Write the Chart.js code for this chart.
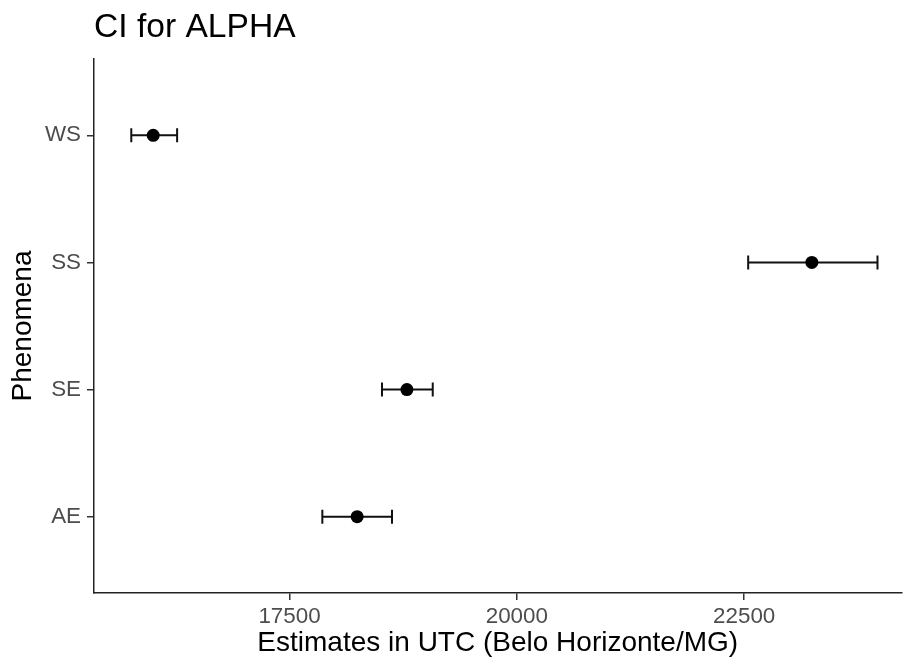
<!DOCTYPE html>
<html>
<head>
<meta charset="utf-8">
<script src="https://cdn.jsdelivr.net/npm/chart.js@4/dist/chart.umd.min.js"></script>
<style>
  html, body { margin: 0; padding: 0; background: #fff; }
  #wrap { width: 908px; height: 664px; }
</style>
</head>
<body>
<div id="wrap"><canvas id="ciChart" width="908" height="664"></canvas></div>
<script>
/* ================= DATA ================= */
const categories = ["AE", "SE", "SS", "WS"];
const estimates  = [18244, 18791, 23244, 16001];
const lowerCI    = [17861, 18517, 22544, 15760];
const upperCI    = [18627, 19075, 23966, 16264];
const xTicks     = [17500, 20000, 22500];

const FONT = "'Liberation Sans', Arial, Helvetica, sans-serif";

/* ---------- error bars drawn through the x/y scales ---------- */
const errorBars = {
  id: "errorBars",
  beforeDatasetsDraw(chart) {
    const { ctx, scales: { x, y } } = chart;
    const cap = 7;
    ctx.save();
    ctx.strokeStyle = "#111";
    ctx.lineWidth = 2;
    categories.forEach((c, i) => {
      const py = y.getPixelForValue(i + 1);
      const x0 = x.getPixelForValue(lowerCI[i]);
      const x1 = x.getPixelForValue(upperCI[i]);
      ctx.beginPath();
      ctx.moveTo(x0, py); ctx.lineTo(x1, py);
      ctx.moveTo(x0, py - cap); ctx.lineTo(x0, py + cap);
      ctx.moveTo(x1, py - cap); ctx.lineTo(x1, py + cap);
      ctx.stroke();
    });
    ctx.restore();
  }
};

new Chart(document.getElementById("ciChart"), {
  type: "scatter",
  data: {
    datasets: [{
      label: "Estimate",
      data: estimates.map((v, i) => ({ x: v, y: i + 1 })),
      backgroundColor: "#000",
      borderColor: "#000",
      pointRadius: 6.5,
      pointBorderWidth: 0,
      pointHoverRadius: 6.5
    }]
  },
  options: {
    responsive: false,
    animation: false,
    layout: { padding: { left: 0, right: 3, top: 0, bottom: 0 } },
    plugins: {
      legend: { display: false },
      tooltip: { enabled: false },
      title: {
        display: true,
        text: "CI for ALPHA",
        align: "start",
        fullSize: false,
        color: "#000",
        font: { family: FONT, size: 33.6, weight: "normal" },
        padding: { top: 8, bottom: 10.7 }
      }
    },
    scales: {
      x: {
        type: "linear",
        min: 15350,
        max: 24230,
        afterBuildTicks: (s) => { s.ticks = xTicks.map(v => ({ value: v })); },
        afterFit: (s) => { s.height = 71; },
        grid: { display: true, drawOnChartArea: false, drawTicks: true, tickLength: 7, color: "#333", lineWidth: 1.5 },
        border: { display: true, color: "#222", width: 1.5 },
        ticks: {
          color: "#4d4d4d",
          padding: 3,
          maxRotation: 0,
          font: { family: FONT, size: 22.4 },
          callback: (v) => String(v)
        },
        title: {
          display: true,
          text: "Estimates in UTC (Belo Horizonte/MG)",
          color: "#000",
          font: { family: FONT, size: 28 },
          padding: { top: 0, bottom: 4 }
        }
      },
      y: {
        type: "linear",
        min: 0.4,
        max: 4.6,
        afterBuildTicks: (s) => { s.ticks = categories.map((c, i) => ({ value: i + 1 })); },
        afterFit: (s) => { s.width = 94; },
        grid: { display: true, drawOnChartArea: false, drawTicks: true, tickLength: 7, color: "#333", lineWidth: 1.5 },
        border: { display: true, color: "#222", width: 1.5 },
        ticks: {
          color: "#4d4d4d",
          padding: 6,
          font: { family: FONT, size: 22.4 },
          callback: (v) => categories[v - 1] || ""
        },
        title: {
          display: true,
          text: "Phenomena",
          color: "#000",
          font: { family: FONT, size: 28 },
          padding: { top: 6, bottom: 0 }
        }
      }
    }
  },
  plugins: [errorBars]
});
</script>
</body>
</html>
